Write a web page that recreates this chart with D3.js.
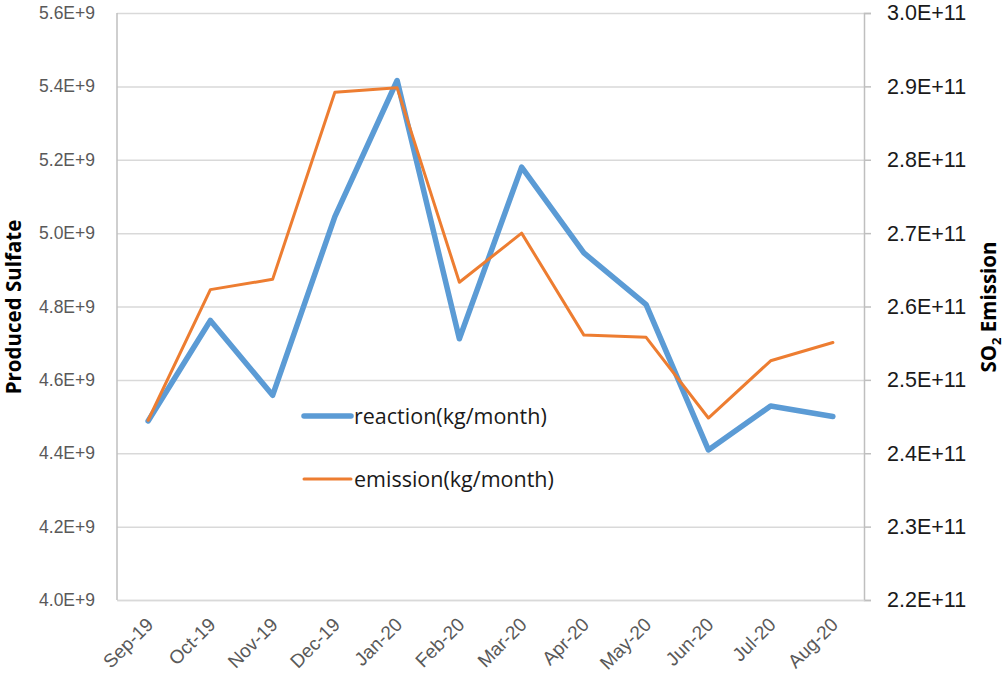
<!DOCTYPE html>
<html>
<head>
<meta charset="utf-8">
<script src="https://cdn.jsdelivr.net/npm/d3@7"></script>
<style>
  body { margin: 0; background: #fff; }
  svg { display: block; font-family: "Open Sans", "Liberation Sans", sans-serif; }
</style>
</head>
<body>
<svg id="chart" width="1004" height="681"></svg>
<script>
const months = ["Sep-19", "Oct-19", "Nov-19", "Dec-19", "Jan-20", "Feb-20",
  "Mar-20", "Apr-20", "May-20", "Jun-20", "Jul-20", "Aug-20"];
const reaction = [4.488e9, 4.762e9, 4.558e9, 5.045e9, 5.416e9, 4.712e9,
  5.18e9, 4.946e9, 4.805e9, 4.409e9, 4.529e9, 4.5e9];
const emission = [2.445e11, 2.623e11, 2.637e11, 2.892e11, 2.898e11, 2.633e11,
  2.7e11, 2.561e11, 2.558e11, 2.448e11, 2.526e11, 2.551e11];
const leftTicks = [4.0e9, 4.2e9, 4.4e9, 4.6e9, 4.8e9, 5.0e9, 5.2e9, 5.4e9, 5.6e9];
const rightTicks = [2.2e11, 2.3e11, 2.4e11, 2.5e11, 2.6e11, 2.7e11, 2.8e11, 2.9e11, 3.0e11];

const margin = { top: 13, right: 140, bottom: 81, left: 117 };
const width = 1004 - margin.left - margin.right;
const height = 681 - margin.top - margin.bottom;

const svg = d3.select("#chart");
const g = svg.append("g").attr("transform", `translate(${margin.left},${margin.top})`);

const x = d3.scalePoint().domain(months).range([0, width]).padding(0.5);
const yL = d3.scaleLinear().domain([4.0e9, 5.6e9]).range([height, 0]);
const yR = d3.scaleLinear().domain([2.2e11, 3.0e11]).range([height, 0]);

const fmtL = d => (d / 1e9).toFixed(1) + "E+9";
const fmtR = d => (d / 1e11).toFixed(1) + "E+11";

// gridlines + left labels
const leftAxis = g.append("g")
  .call(d3.axisLeft(yL).tickValues(leftTicks).tickSize(-width).tickFormat(fmtL).tickPadding(22));
leftAxis.select(".domain").remove();
leftAxis.selectAll("line").attr("stroke", "#d9d9d9").attr("stroke-width", 1.5);
leftAxis.selectAll("text").attr("fill", "#595959").attr("font-size", 17.5);
g.append("line").attr("x1", 0).attr("x2", 0).attr("y1", 0).attr("y2", height)
  .attr("stroke", "#bfbfbf").attr("stroke-width", 1.5);

// right axis
const rightAxis = g.append("g").attr("transform", `translate(${width},0)`)
  .call(d3.axisRight(yR).tickValues(rightTicks).tickSize(7).tickFormat(fmtR).tickPadding(16));
rightAxis.select(".domain").attr("stroke", "#bfbfbf").attr("stroke-width", 1.5);
rightAxis.selectAll("line").attr("stroke", "#bfbfbf").attr("stroke-width", 1.5);
rightAxis.selectAll("text").attr("fill", "#1a1a1a").attr("font-size", 21.5);

// bottom axis
const xAxis = g.append("g").attr("transform", `translate(0,${height})`)
  .call(d3.axisBottom(x).tickSize(0));
xAxis.select(".domain").attr("stroke", "#d9d9d9").attr("stroke-width", 1.5);
xAxis.selectAll("text")
  .attr("fill", "#595959").attr("font-size", 19)
  .attr("text-anchor", "end")
  .attr("dy", "0.35em")
  .attr("transform", "translate(-1,19) rotate(-45)");

// lines
const lineL = d3.line().x((d, i) => x(months[i])).y(d => yL(d));
const lineR = d3.line().x((d, i) => x(months[i])).y(d => yR(d));

g.append("path").datum(reaction)
  .attr("fill", "none").attr("stroke", "#5b9bd5").attr("stroke-width", 5.5)
  .attr("stroke-linejoin", "round").attr("stroke-linecap", "round")
  .attr("d", lineL);
g.append("path").datum(emission)
  .attr("fill", "none").attr("stroke", "#ed7d31").attr("stroke-width", 3)
  .attr("stroke-linejoin", "round").attr("stroke-linecap", "round")
  .attr("d", lineR);

// legend
const legend = [
  { name: "reaction(kg/month)", color: "#5b9bd5", w: 5.5, y: 416 },
  { name: "emission(kg/month)", color: "#ed7d31", w: 3, y: 479 }
];
const lg = svg.append("g");
legend.forEach(l => {
  lg.append("line").attr("x1", 304).attr("x2", 351).attr("y1", l.y).attr("y2", l.y)
    .attr("stroke", l.color).attr("stroke-width", l.w).attr("stroke-linecap", "round");
  lg.append("text").attr("x", 354).attr("y", l.y).attr("dy", "0.35em")
    .attr("font-size", 21.5).attr("fill", "#1a1a1a").text(l.name);
});

// axis titles
svg.append("text")
  .attr("transform", "translate(21,307) rotate(-90)")
  .attr("text-anchor", "middle").attr("font-weight", "bold").attr("font-size", 20.5)
  .attr("fill", "#000").text("Produced Sulfate");

const rt = svg.append("text")
  .attr("transform", "translate(996,307) rotate(-90)")
  .attr("text-anchor", "middle").attr("font-weight", "bold").attr("font-size", 20.5)
  .attr("fill", "#000");
rt.append("tspan").text("SO");
rt.append("tspan").attr("font-size", 13).attr("dy", 5).text("2");
rt.append("tspan").attr("dy", -5).text(" Emission");
</script>
</body>
</html>
